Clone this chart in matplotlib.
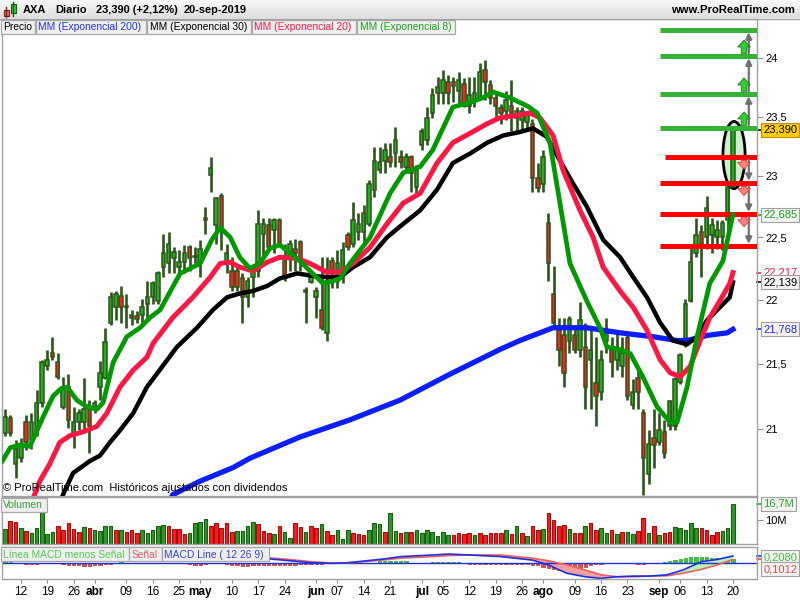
import matplotlib
matplotlib.use("Agg")
import matplotlib.pyplot as plt
import numpy as np
import pandas as pd
from matplotlib.patches import Rectangle, Ellipse
from matplotlib.ticker import FixedLocator, FixedFormatter, NullLocator

plt.rcParams["font.family"] = ["Liberation Sans", "DejaVu Sans"]

# trading days, 7-mar-2019 .. 20-sep-2019
holidays = ["2019-04-19", "2019-04-22", "2019-05-01"]
dates = pd.bdate_range("2019-03-07", "2019-09-20", freq="C", holidays=holidays)

opens = [
    20.97, 21.08, 20.74, 20.78, 21.05, 20.92, 20.97, 21.20, 21.48, 21.58,
    21.51, 21.17, 21.32, 20.97, 21.05, 21.05, 21.15, 21.15, 21.32, 21.39,
    21.82, 21.94, 22.03, 21.95, 21.88, 21.87, 21.88, 21.97, 22.02, 21.99,
    22.26, 22.29, 22.33, 22.26, 22.30, 22.42, 22.34, 22.29, 22.66, 23.01,
    22.60, 22.84, 22.29, 22.23, 22.23, 22.17, 22.02, 22.18, 22.23, 22.53,
    22.60, 22.56, 22.64, 22.31, 22.34, 22.41, 22.46, 22.08, 22.14, 22.02,
    21.92, 21.74, 22.31, 22.15, 22.23, 22.52, 22.45, 22.54, 22.54, 22.61,
    22.89, 23.05, 23.13, 23.16, 23.19, 23.16, 23.08, 23.16, 22.91, 23.26,
    23.30, 23.53, 23.70, 23.70, 23.79, 23.79, 23.72, 23.78, 23.59, 23.64,
    23.66, 23.90, 23.77, 23.66, 23.57, 23.55, 23.59, 23.49, 23.47, 23.45,
    23.44, 22.99, 22.94, 22.62, 22.05, 21.76, 21.72, 21.68, 21.72, 21.61,
    21.63, 21.53, 21.35, 21.28, 21.68, 21.61, 21.53, 21.48, 21.70, 21.18,
    21.39, 21.12, 20.66, 20.93, 20.90, 20.98, 21.02, 21.02, 21.36, 21.66,
    21.99, 22.37, 22.54, 22.50, 22.52, 22.50, 22.50, 22.64, 22.91]
highs = [
    21.15, 21.11, 20.92, 20.93, 21.11, 21.12, 21.30, 21.53, 21.61, 21.71,
    21.58, 21.40, 21.42, 21.17, 21.15, 21.39, 21.22, 21.22, 21.52, 21.78,
    22.06, 22.07, 22.11, 22.05, 21.92, 21.91, 22.01, 22.15, 22.15, 22.23,
    22.53, 22.54, 22.42, 22.40, 22.44, 22.44, 22.42, 22.48, 22.75, 23.16,
    22.83, 22.86, 22.45, 22.34, 22.26, 22.21, 22.18, 22.26, 22.72, 22.66,
    22.66, 22.66, 22.66, 22.45, 22.48, 22.49, 22.48, 22.10, 22.23, 22.10,
    22.34, 22.34, 22.34, 22.40, 22.46, 22.54, 22.79, 22.70, 22.76, 22.97,
    23.24, 23.24, 23.28, 23.28, 23.41, 23.22, 23.19, 23.18, 23.09, 23.40,
    23.58, 23.74, 23.84, 23.90, 23.85, 23.84, 23.88, 23.83, 23.84, 23.84,
    23.96, 23.98, 23.81, 23.70, 23.61, 23.72, 23.81, 23.58, 23.58, 23.53,
    23.48, 23.11, 23.22, 22.70, 22.27, 21.86, 21.86, 21.87, 21.78, 21.98,
    21.82, 21.78, 21.71, 21.61, 21.86, 21.71, 21.76, 21.71, 21.72, 21.38,
    21.45, 21.15, 20.99, 21.15, 21.12, 21.07, 21.22, 21.40, 21.58, 22.01,
    22.42, 22.66, 22.60, 22.84, 22.66, 22.64, 22.64, 22.93, 23.47]
lows = [
    20.95, 20.95, 20.63, 20.75, 20.84, 20.85, 20.95, 21.17, 21.45, 21.53,
    21.38, 21.15, 21.01, 20.86, 20.99, 20.97, 20.82, 21.12, 21.22, 21.38,
    21.80, 21.84, 21.82, 21.78, 21.80, 21.82, 21.82, 21.86, 21.97, 21.97,
    22.18, 22.21, 22.21, 22.18, 22.21, 22.23, 22.29, 22.18, 22.53, 22.87,
    22.45, 22.40, 22.21, 22.07, 22.07, 21.82, 21.94, 22.02, 22.18, 22.34,
    22.40, 22.37, 22.44, 22.15, 22.23, 22.23, 22.23, 21.82, 22.13, 21.86,
    21.76, 21.68, 22.09, 22.09, 22.13, 22.40, 22.42, 22.48, 22.46, 22.59,
    22.83, 23.03, 23.03, 23.08, 23.08, 23.07, 23.03, 22.87, 22.83, 23.22,
    23.26, 23.49, 23.61, 23.61, 23.61, 23.62, 23.61, 23.58, 23.53, 23.58,
    23.64, 23.64, 23.61, 23.49, 23.44, 23.47, 23.38, 23.38, 23.38, 23.38,
    22.87, 22.87, 22.87, 22.15, 21.78, 21.48, 21.32, 21.58, 21.58, 21.55,
    21.15, 21.15, 21.02, 21.22, 21.58, 21.40, 21.45, 21.40, 21.22, 21.15,
    21.15, 20.51, 20.59, 20.71, 20.88, 20.78, 20.99, 20.99, 21.34, 21.63,
    21.98, 22.34, 22.18, 22.41, 22.37, 22.41, 22.40, 22.56, 22.90]
closes = [
    21.09, 20.97, 20.85, 20.88, 20.90, 21.05, 21.20, 21.51, 21.53, 21.55,
    21.40, 21.32, 21.07, 21.05, 21.12, 21.15, 21.02, 21.20, 21.43, 21.67,
    22.02, 22.05, 21.94, 21.94, 21.86, 21.85, 21.94, 22.02, 22.13, 22.21,
    22.37, 22.45, 22.38, 22.30, 22.37, 22.33, 22.35, 22.41, 22.64, 23.07,
    22.82, 22.58, 22.37, 22.10, 22.10, 22.02, 22.15, 22.23, 22.61, 22.61,
    22.42, 22.64, 22.45, 22.18, 22.45, 22.37, 22.30, 22.06, 22.18, 22.07,
    21.78, 22.15, 22.23, 22.29, 22.40, 22.42, 22.64, 22.61, 22.70, 22.94,
    23.13, 23.12, 23.22, 23.12, 23.30, 23.12, 23.16, 23.03, 23.05, 23.38,
    23.49, 23.68, 23.75, 23.81, 23.70, 23.76, 23.81, 23.59, 23.68, 23.70,
    23.88, 23.79, 23.66, 23.59, 23.53, 23.64, 23.53, 23.55, 23.55, 23.51,
    22.99, 22.90, 23.16, 22.29, 21.82, 21.61, 21.43, 21.85, 21.61, 21.84,
    21.32, 21.61, 21.25, 21.53, 21.74, 21.51, 21.61, 21.58, 21.25, 21.28,
    21.28, 20.78, 20.89, 20.88, 20.99, 20.82, 21.21, 21.38, 21.57, 21.97,
    22.30, 22.52, 22.45, 22.74, 22.60, 22.56, 22.62, 22.91, 23.39]

# volume in millions, with bar colour (g = up, r = down)
volumes = [
    6.3, 9.8, 9.3, 6.7, 5.6, 4.6, 6.7, 13.2, 4.2, 5.2,
    7.3, 5.9, 8.8, 6.3, 4.9, 7.0, 6.7, 5.9, 5.6, 7.3,
    7.7, 5.9, 5.9, 5.2, 5.9, 4.6, 5.9, 4.6, 5.9, 7.7,
    7.9, 7.7, 6.3, 6.3, 4.2, 4.6, 8.8, 9.3, 10.5, 7.7,
    8.8, 6.7, 8.8, 5.2, 5.6, 5.6, 7.7, 9.3, 8.4, 5.6,
    4.6, 4.2, 7.7, 5.2, 2.5, 8.8, 7.0, 5.2, 7.3, 6.7,
    8.4, 5.6, 3.9, 5.9, 2.1, 5.9, 4.6, 4.2, 3.9, 5.9,
    8.8, 8.4, 5.2, 12.8, 5.6,
    4.5, 4.9, 5.2, 6.0, 4.6, 5.9, 5.2, 3.5, 5.2, 3.9,
    3.9, 4.6, 4.2, 4.6, 3.9, 4.6, 3.9, 4.6, 4.6, 4.6,
    6.0, 4.2, 7.7, 4.5, 3.5, 7.4, 5.9, 6.3, 13.0, 10.2,
    7.3, 7.9, 6.3, 4.6, 4.6, 7.7, 8.8, 6.0, 6.7, 4.6,
    5.9, 4.2, 4.9, 4.9, 4.2, 5.3, 10.9, 4.6, 7.7, 3.9,
    4.5, 4.9, 7.0, 6.6, 6.0, 8.8, 6.7, 6.6, 5.9, 3.9,
    5.2, 5.3, 6.7, 16.7]
vol_dir = ("grrgrggggg" "rrrrrgrggg" "grgrrrgggg" "grrrrggggr" "rrrrggggrr"
           "rgrggrrgrr" "grrgggrrrg" "ggrgg"
           "rgrggggggg" "rrrrgrrrrr" "grgrgrrgrr" "rrgrrgrrgg" "rgrggrrgrg"
           "rrgggggrrr" "rggg")

# moving averages (day index, value)
ema8_x = [-0.5, 1, 2.8, 4.7, 5.3, 7.2, 9.1, 10.4, 11.8, 13.6, 15.5, 17.4, 18.6,
          20.5, 23.1, 25.6, 27.5, 29.4, 33.2, 37.0, 39.2, 40.8, 42.7, 44.5,
          46.4, 48.3, 50.2, 52.1, 54.0, 55.9, 57.8, 60.3, 62.2, 63.5, 65.4,
          69.2, 73.0, 75.5, 78.7, 81.1, 84.9, 88.2, 90.6, 92.5, 95.7, 99.0,
          100.9, 103.3, 105.2, 107.1, 110.3, 112.8, 114.1, 116.6, 118.5,
          120.9, 123.6, 126.1, 127.4, 129.3, 131.2, 133.6, 136.1, 138]
ema8_y = [20.76, 20.86, 20.88, 20.87, 20.92, 21.09, 21.25, 21.30, 21.32, 21.22,
          21.17, 21.15, 21.20, 21.51, 21.71, 21.78, 21.86, 21.92, 22.21, 22.29,
          22.48, 22.58, 22.50, 22.34, 22.25, 22.29, 22.41, 22.44, 22.37, 22.31,
          22.23, 22.13, 22.15, 22.17, 22.29, 22.50, 22.86, 23.03, 23.08, 23.22,
          23.58, 23.62, 23.66, 23.71, 23.66, 23.59, 23.53, 23.28, 22.78, 22.29,
          21.99, 21.78, 21.63, 21.61, 21.58, 21.40, 21.17, 21.05, 21.05, 21.32,
          21.71, 22.13, 22.31, 22.685]
ema20_x = [5.0, 6.6, 8.5, 10.4, 12.3, 14.8, 17.4, 19.3, 21.8, 24.3, 26.9, 28.1,
           31.8, 35.6, 38.9, 40.8, 42.7, 44.5, 47.0, 49.7, 52.1, 55.4, 57.8,
           61.0, 63.5, 66.0, 69.2, 72.4, 75.5, 78.7, 81.9, 84.9, 88.2, 91.4,
           93.8, 97.1, 99.5, 101.4, 103.9, 105.8, 109.0, 111.5, 113.4, 116.6,
           119.1, 121.7, 124.2, 126.1, 128.0, 129.9, 131.8, 133.6, 135.5,
           137.4, 138]
ema20_y = [20.45, 20.61, 20.74, 20.90, 20.95, 20.98, 21.02, 21.12, 21.32, 21.45,
           21.55, 21.66, 21.86, 22.02, 22.18, 22.29, 22.30, 22.26, 22.23, 22.30,
           22.34, 22.33, 22.29, 22.22, 22.22, 22.29, 22.42, 22.61, 22.78, 22.86,
           23.11, 23.28, 23.36, 23.44, 23.49, 23.51, 23.53, 23.49, 23.34, 23.05,
           22.72, 22.50, 22.26, 22.07, 21.94, 21.76, 21.53, 21.43, 21.40, 21.48,
           21.68, 21.86, 21.99, 22.13, 22.217]
ema30_x = [10.5, 11.0, 12.9, 16.1, 18.0, 19.9, 21.8, 24.3, 26.9, 32.6, 36.4,
           39.4, 42.1, 44.5, 47.0, 49.7, 52.1, 55.4, 58.4, 61.0, 63.5, 66.0,
           69.2, 72.4, 75.5, 78.7, 81.9, 84.9, 88.2, 91.4, 94.4, 97.6, 100.1,
           102.7, 105.2, 107.7, 110.3, 113.4, 116.6, 119.1, 121.7, 124.2,
           126.6, 129.3, 131.2, 133.1, 135.5, 137.4, 138]
ema30_y = [20.45, 20.51, 20.67, 20.76, 20.80, 20.90, 20.99, 21.12, 21.32, 21.63,
           21.78, 21.92, 22.02, 22.05, 22.07, 22.11, 22.17, 22.21, 22.19, 22.18,
           22.18, 22.26, 22.34, 22.50, 22.61, 22.72, 22.89, 23.11, 23.19, 23.28,
           23.34, 23.37, 23.40, 23.33, 23.13, 22.94, 22.75, 22.48, 22.34, 22.18,
           22.02, 21.82, 21.68, 21.65, 21.71, 21.84, 21.94, 22.02, 22.139]
ema200_x = [31.0, 31.8, 37.0, 43.2, 46.4, 55.9, 65.4, 74.9, 84.4, 93.8, 97.6,
            101.4, 103.9, 110.3, 116.6, 122.8, 127.4, 129.3, 133.1, 136.9, 138]
ema200_y = [20.45, 20.51, 20.61, 20.71, 20.78, 20.94, 21.07, 21.22, 21.42, 21.61,
            21.68, 21.74, 21.78, 21.78, 21.74, 21.71, 21.68, 21.68, 21.72, 21.74,
            21.768]

# MACD (12 26 9)
macd_x = [0, 10, 20, 30, 40, 45, 50, 54, 58, 62, 65, 68, 72, 75, 81, 84, 88, 94,
          100, 103, 106.5, 110, 113, 116, 119, 122, 125.5, 128.5, 132, 135, 138]
macd_line = [0.10, 0.15, 0.12, 0.20, 0.25, 0.20, 0.12, 0.06, 0.00, -0.02, 0.00,
             0.05, 0.12, 0.19, 0.24, 0.27, 0.24, 0.19, 0.08, -0.07, -0.33,
             -0.44, -0.49, -0.44, -0.42, -0.42, -0.38, -0.23, 0.03, 0.10, 0.208]
macd_signal = [0.08, 0.15, 0.15, 0.18, 0.24, 0.23, 0.15, 0.10, 0.03, -0.01,
               -0.01, 0.03, 0.09, 0.14, 0.19, 0.22, 0.24, 0.24, 0.14, 0.06,
               -0.07, -0.23, -0.38, -0.44, -0.44, -0.42, -0.41, -0.33, -0.21,
               -0.07, 0.1012]
macd_hist = [
    0.05, 0.04, 0, 0, -0.04, -0.05, -0.04, 0, 0, 0,
    0, -0.04, -0.06, -0.07, -0.08, -0.09, -0.09, -0.08, -0.07, -0.05,
    -0.03, 0, 0.04, 0, 0, 0, 0, 0, 0, 0,
    0, 0, 0, 0, 0, -0.04, -0.06, -0.06, -0.04, 0,
    0, 0, -0.05, -0.07, -0.08, -0.09, -0.09, -0.08, -0.07, -0.06,
    -0.06, -0.06, -0.06, -0.06, -0.06, -0.06, -0.05, -0.05, -0.05, -0.04,
    -0.03, -0.02, 0, 0, 0, 0, 0, 0, 0, 0,
    0, 0.04, 0.05, 0.06, 0.06,
    0.05, 0.04, 0, 0, 0, 0, 0.03, 0.03, 0.03, 0.03,
    0.03, 0.03, -0.01, -0.05, -0.05, -0.05, -0.05, -0.05, -0.05, -0.05,
    -0.05, -0.05, -0.05, -0.05, -0.05,
    -0.06, -0.08, -0.12, -0.16, -0.20, -0.23, -0.25, -0.25, -0.22, -0.18,
    -0.12, -0.08, -0.05, -0.03, -0.02, -0.02, -0.01, 0, -0.01, -0.02,
    -0.03, -0.03, -0.02, -0.01, 0, 0.02, 0.05, 0.08, 0.12, 0.15,
    0.17, 0.18, 0.18, 0.17, 0.16, 0.15, 0.14, 0.12, 0.107]

# support / resistance levels drawn on the right
levels_up = [24.243, 24.017, 23.691, 23.403]
levels_dn = [23.162, 22.944, 22.689, 22.430]
levels_from = 124.2
ellipse_lo, ellipse_hi = 22.90, 23.46

tick_dates = ["2019-03-12", "2019-03-19", "2019-03-26", "2019-04-01", "2019-04-09",
              "2019-04-16", "2019-04-25", "2019-05-02", "2019-05-10", "2019-05-17",
              "2019-05-24", "2019-06-03", "2019-06-07", "2019-06-14", "2019-06-21",
              "2019-07-01", "2019-07-05", "2019-07-12", "2019-07-19", "2019-07-26",
              "2019-08-01", "2019-08-09", "2019-08-16", "2019-08-23", "2019-09-02",
              "2019-09-06", "2019-09-13", "2019-09-20"]
tick_labels = ["12", "19", "26", "abr", "09", "16", "25", "may", "10", "17", "24",
               "jun", "07", "14", "21", "jul", "05", "12", "19", "26", "ago", "09",
               "16", "23", "sep", "06", "13", "20"]
price_ticks = [21, 21.5, 22, 22.5, 23, 23.5, 24]
price_labels = ["21", "21,5", "22", "22,5", "23", "23,5", "24"]

# ---------------------------------------------------------------------------
W, H = 800, 600
GRID = "#A0A0A0"


def rect(x0, y0, x1, y1):
    return [x0 / W, 1 - y1 / H, (x1 - x0) / W, (y1 - y0) / H]


fig = plt.figure(figsize=(8, 6), dpi=100, facecolor="white")
ax = fig.add_axes(rect(2, 19, 757, 496))
axv = fig.add_axes(rect(2, 497, 757, 544), sharex=ax)
axm = fig.add_axes(rect(2, 547, 757, 579), sharex=ax)

n = len(closes)
xi = np.arange(n)
o, h, l, c = (np.array(v) for v in (opens, highs, lows, closes))
up = c >= o
edge = "#2B5519"

ax.set_yscale("log")
ax.vlines(xi, l, h, color=edge, lw=1.9, zorder=2)
lo = np.minimum(o, c)
hi = np.maximum(o, c)
ax.bar(xi, np.maximum(hi - lo, 0.012), bottom=lo, width=0.66,
       color=["#1FAF1F" if u else "#FF2020" for u in up],
       edgecolor=edge, lw=1.1, zorder=2.5)

ax.add_patch(Ellipse((n - 1 + 0.2, np.sqrt(ellipse_lo * ellipse_hi)), 4.2,
                     ellipse_hi - ellipse_lo, fc="#CDEFCD", ec="black", lw=2.0,
                     zorder=2.2))

x_right = 142.56
ax.hlines(levels_up, levels_from, x_right, color="#36B336", lw=3.6, zorder=3)
ax.hlines(levels_dn, [levels_from + 0.9] + [levels_from] * 3, x_right,
          color="#FF0000", lw=3.6, zorder=3)

ax.plot(ema200_x, ema200_y, color="#0A1EFF", lw=3.8, zorder=4)
ax.plot(ema30_x, ema30_y, color="black", lw=3.2, zorder=4)
ax.plot(ema20_x, ema20_y, color="#FF1744", lw=3.6, zorder=4)
ax.plot(ema8_x, ema8_y, color="#009A00", lw=3.4, zorder=4)

# arrows between levels
ax_g = n - 1 + 2.1
ax_k = n - 1 + 3.0
gray = dict(arrowstyle="-|>", color="#707070", lw=1.6, mutation_scale=9,
            shrinkA=0, shrinkB=0)
for lower, upper in zip(levels_up[1:], levels_up[:-1]):
    ax.annotate("", xy=(ax_k, upper * 0.9992), xytext=(ax_k, lower * 1.001),
                arrowprops=gray, annotation_clip=False, zorder=5)
    ax.annotate("", xy=(ax_g, lower * 1.0058), xytext=(ax_g, lower * 1.001),
                arrowprops=dict(arrowstyle="simple,head_length=0.5,head_width=0.9,tail_width=0.4",
                                fc="#33CC33", ec="#1E7A1E", lw=0.6, mutation_scale=10,
                                shrinkA=0, shrinkB=0),
                annotation_clip=False, zorder=5)
for upper, lower in zip(levels_dn[:-1], levels_dn[1:]):
    ax.annotate("", xy=(ax_k, lower * 1.0008), xytext=(ax_k, upper * 0.999),
                arrowprops=gray, annotation_clip=False, zorder=5)
    ax.annotate("", xy=(ax_g, upper * 0.9955), xytext=(ax_g, upper * 0.9988),
                arrowprops=dict(arrowstyle="simple,head_length=0.5,head_width=0.9,tail_width=0.4",
                                fc="#FF8080", ec="#E04040", lw=0.6, mutation_scale=10,
                                shrinkA=0, shrinkB=0),
                annotation_clip=False, zorder=5)

ax.set_xlim(-0.57, x_right)
ax.set_ylim(20.50, 24.34)
ax.yaxis.set_major_locator(FixedLocator(price_ticks))
ax.yaxis.set_major_formatter(FixedFormatter(price_labels))
ax.yaxis.set_minor_locator(NullLocator())
ax.yaxis.tick_right()
ax.tick_params(axis="y", length=4, color="#909090", labelsize=8, pad=2)
ax.tick_params(axis="x", bottom=False, labelbottom=False)


def tag(axis, val, text, fc, tc, ec, tick_color=None, dy=0):
    tr = axis.get_yaxis_transform()
    axis.plot([1.0, 1.0066], [val, val], transform=tr, clip_on=False,
              color=tick_color or tc, lw=1.2)
    axis.annotate(text, xy=(1.0, val), xycoords=tr, xytext=(4.5, dy),
                  textcoords="offset points", ha="left", va="center",
                  fontsize=8, color=tc, annotation_clip=False,
                  bbox=dict(boxstyle="square,pad=0.18", fc=fc, ec=ec, lw=0.8))


tag(ax, closes[-1], "23,390", "#FFCC00", "black", "#B89000", tick_color="black")
tag(ax, ema8_y[-1], "22,685", "#F2F2F2", "#17A017", "#A0A0A0")
tag(ax, ema20_y[-1], "22,217", "white", "#FF1744", "white")
tag(ax, ema30_y[-1], "22,139", "#F2F2F2", "black", "#A0A0A0")
tag(ax, ema200_y[-1], "21,768", "#F2F2F2", "#1A2AFF", "#A0A0A0")

# volume
vcol = ["#2A9A2A" if d == "g" else "#FF1A1A" for d in vol_dir]
vedge = ["#1E5A12" if d == "g" else "#A01010" for d in vol_dir]
axv.bar(xi, volumes, width=0.68, color=vcol, edgecolor=vedge, lw=0.8)
axv.set_ylim(0, 19.6)
axv.yaxis.tick_right()
axv.set_yticks([10])
axv.set_yticklabels(["10M"])
axv.tick_params(axis="y", length=4, color="#909090", labelsize=8, pad=2)
axv.tick_params(axis="x", bottom=False, labelbottom=False)
tag(axv, volumes[-1], "16,7M", "#F2F2F2", "#2EA02E", "#A0A0A0")

# MACD
hist = np.array(macd_hist)
axm.bar(xi, hist, width=0.62, color=["#33CC33" if v >= 0 else "#E05050" for v in hist],
        edgecolor=["#1F9F1F" if v >= 0 else "#B03030" for v in hist], lw=0.5)
mx = np.array(macd_x)
ml = np.array(macd_line)
ms = np.array(macd_signal)
axm.fill_between(mx, ml, ms, where=ml < ms, interpolate=True, color="#F2A0A0", lw=0)
axm.fill_between(mx, ml, ms, where=ml >= ms, interpolate=True, color="#B8F0B8", lw=0)
axm.axhline(0, color="#2030D0", lw=1.0)
axm.plot(mx, ms, color="#F06060", lw=1.2)
axm.plot(mx, ml, color="#2030E0", lw=1.2)
axm.set_ylim(-0.51, 0.49)
axm.set_yticks([])
tag(axm, macd_line[-1], "0,2080", "#F2F2F2", "#40C040", "#A0A0A0", tick_color="#2030E0", dy=-0.8)
tag(axm, macd_signal[-1], "0,1012", "#F2F2F2", "#E05050", "#A0A0A0", dy=-7)

tick_idx = [dates.get_loc(pd.Timestamp(d)) for d in tick_dates]
axm.set_xticks(tick_idx)
axm.set_xticklabels(tick_labels)
for lab in axm.get_xticklabels():
    if lab.get_text().isalpha():
        lab.set_fontweight("bold")
axm.tick_params(axis="x", length=3, color="#909090", labelsize=8.5, pad=2)

for a in (ax, axv, axm):
    for s in a.spines.values():
        s.set_color(GRID)
        s.set_linewidth(1.0)

# overlay: header, legend buttons, captions
ov = fig.add_axes([0, 0, 1, 1], zorder=10)
ov.patch.set_alpha(0)
grad = np.linspace(0.97, 0.87, 20).reshape(-1, 1)
ov.imshow(grad, extent=(0, W, 18, 0), aspect="auto", cmap="gray", vmin=0, vmax=1)
ov.set_xlim(0, W)
ov.set_ylim(H, 0)
ov.axis("off")
ov.plot([0, W], [18.5, 18.5], color=GRID, lw=1)

# little candle icon
ov.plot([6, 6], [7, 17], color="#7A2020", lw=1)
ov.add_patch(Rectangle((3.5, 10), 5, 6, fc="#FF6060", ec="#7A2020", lw=0.8))
ov.plot([13, 13], [1.5, 16], color="#1E5A12", lw=1)
ov.add_patch(Rectangle((10.5, 4), 5, 9, fc="#33CC33", ec="#1E5A12", lw=0.8))

for txt, x0 in [("AXA", 23), ("Diario", 55), ("23,390 (+2,12%)", 96), ("20-sep-2019", 184)]:
    ov.text(x0, 10, txt, fontsize=7.9, fontweight="bold", va="center", ha="left")
ov.text(795, 10, "www.ProRealTime.com", fontsize=8.1, fontweight="bold",
        va="center", ha="right")


def button(label, x0, x1, y0, y1, color):
    ov.add_patch(Rectangle((x0, y0), x1 - x0, y1 - y0, fc="#EFEFEF", ec="#A8A8A8", lw=0.9))
    ov.text(x0 + 2.5, (y0 + y1) / 2 + 0.5, label, fontsize=7.4, color=color,
            va="center", ha="left")


for label, x0, x1, col in [("Precio", 0.5, 35, "black"),
                           ("MM (Exponencial 200)", 36, 146, "#2233EE"),
                           ("MM (Exponencial 30)", 147, 251, "black"),
                           ("MM (Exponencial 20)", 252, 356, "#FF1744"),
                           ("MM (Exponencial 8)", 357, 455, "#1E9E1E")]:
    button(label, x0, x1, 20, 34, col)
button("Volumen", 0.5, 47, 498, 512, "#3A9A3A")
for label, x0, x1, col in [("Línea MACD menos Señal", 0.5, 129, "#55CC55"),
                           ("Señal", 129, 162, "#E06060"),
                           ("MACD Line ( 12 26 9)", 162, 269, "#3344DD")]:
    button(label, x0, x1, 547, 561, col)

ov.text(3, 488, "© ProRealTime.com  Históricos ajustados con dividendos",
        fontsize=8, va="center", ha="left")

fig.savefig("out.png", dpi=100, facecolor="white")
